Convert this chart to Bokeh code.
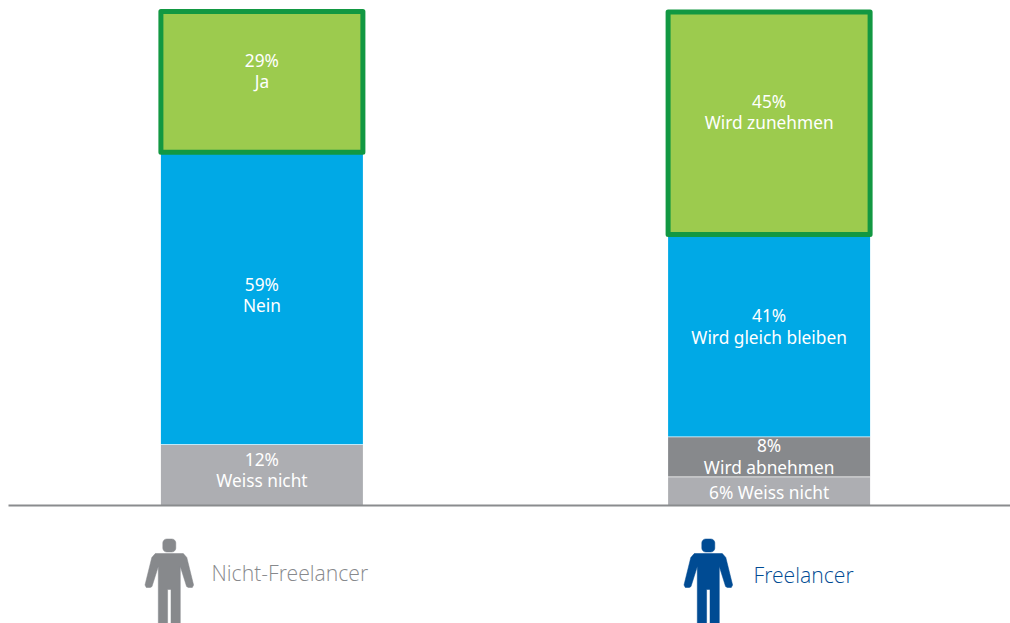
import math
from bokeh.plotting import figure
from bokeh.models import Range1d
from bokeh.core.properties import value
from bokeh.embed import file_html
from bokeh.resources import INLINE

groups = ["Nicht-Freelancer", "Freelancer"]
group_colors = ["#87898c", "#004b93"]

left_values = [12.3, 59.2, 28.5]
left_pcts = ["12%", "59%", "29%"]
left_names = ["Weiss nicht", "Nein", "Ja"]
left_colors = ["#adaeb2", "#00a9e6", "#9ccb4e"]

right_values = [5.8, 8.1, 40.9, 45.1]
right_pcts = ["6% Weiss nicht", "8%", "41%", "45%"]
right_names = ["", "Wird abnehmen", "Wird gleich bleiben", "Wird zunehmen"]
right_colors = ["#adaeb2", "#87898c", "#00a9e6", "#9ccb4e"]

W, H = 1010, 623
PX_PER_PCT = 4.935
PX_PER_X = 507.2
LEFT_C = 262.4
ZERO_Y = 505.5
OFF = 1


def xd(px):
    return (px - LEFT_C) / PX_PER_X


def yd(px):
    return (ZERO_Y - px) / PX_PER_PCT


p = figure(width=W, height=H, toolbar_location=None, output_backend="svg",
           x_range=Range1d(xd(OFF), xd(OFF + W)), y_range=Range1d(yd(OFF + H), yd(OFF)),
           min_border=0, outline_line_color=None, background_fill_color="white",
           border_fill_color="white")
p.axis.visible = False
p.grid.visible = False

bar_w = 202 / PX_PER_X
FONT = "Noto Sans"
LABEL_SIZE = "17.3px"

for gi, (vals, cols) in enumerate([(left_values, left_colors), (right_values, right_colors)]):
    bottom = 0.0
    for si, (v, c) in enumerate(zip(vals, cols)):
        top = bottom + v
        if si == len(vals) - 1:
            p.quad(left=[gi - bar_w / 2], right=[gi + bar_w / 2], bottom=[bottom], top=[top],
                   fill_color=c, line_color="#129842", line_width=5, line_join="round")
        else:
            p.quad(left=[gi - bar_w / 2], right=[gi + bar_w / 2], bottom=[bottom], top=[top],
                   fill_color=c, line_color=None)
            if si < len(vals) - 2:
                p.segment(x0=[gi - bar_w / 2], x1=[gi + bar_w / 2], y0=[top], y1=[top],
                          line_color="white", line_width=1.6)
        bottom = top

label_px = {
    0: [(460, 481), (285, 306), (61, 82)],
    1: [(493, None), (446, 468), (316, 338), (102, 123)],
}
for gi, (pcts, names) in enumerate([(left_pcts, left_names), (right_pcts, right_names)]):
    for (y1, y2), pc, nm in zip(label_px[gi], pcts, names):
        p.text(x=[gi], y=[yd(y1 - 0.5)], text=[pc], text_color="white", text_align="center",
               text_baseline="middle", text_font=value(FONT), text_font_size=LABEL_SIZE)
        if y2 is not None:
            p.text(x=[gi], y=[yd(y2 - 0.5)], text=[nm], text_color="white", text_align="center",
                   text_baseline="middle", text_font=value(FONT), text_font_size=LABEL_SIZE)

p.segment(x0=[xd(9)], x1=[xd(W + OFF)], y0=[yd(506)], y1=[yd(506)], line_color="#8a8c8e", line_width=2)


def person(cx, color):
    half = [(0, 590), (1.7, 590), (1.7, 640), (11, 640), (11, 567), (17.3, 587), (19, 588),
            (23, 588), (24.3, 585.5), (17.5, 558), (14, 554)]
    outline = half + [(-dx, y) for dx, y in reversed(half)]
    xs = [xd(cx + dx) for dx, _ in outline]
    ys = [yd(y) for _, y in outline]
    p.patch(xs, ys, fill_color=color, line_color=color, line_width=0.5)
    r, a, hy = 4.0, 6.5, 546.0
    hx_pts, hy_pts = [], []
    for (sx, sy, st) in [(1, 1, 0), (-1, 1, 90), (-1, -1, 180), (1, -1, 270)]:
        for k in range(7):
            t = math.radians(st + k * 15)
            hx_pts.append(xd(cx + sx * (a - r) + r * math.cos(t)))
            hy_pts.append(yd(hy - sy * (a - r) - r * math.sin(t)))
    p.patch(hx_pts, hy_pts, fill_color=color, line_color=color, line_width=0.5)


person(169.8, group_colors[0])
person(708.8, group_colors[1])

p.text(x=[xd(212)], y=[yd(573)], text=[groups[0]], text_color="#87898c", text_align="left",
       text_baseline="middle", text_font=value("Open Sans Light"), text_font_size="21.2px")
p.text(x=[xd(754)], y=[yd(575)], text=[groups[1]], text_color="#004b93", text_align="left",
       text_baseline="middle", text_font=value("Open Sans Light"), text_font_size="21.2px")

open("out.html", "w").write(file_html(p, INLINE))
